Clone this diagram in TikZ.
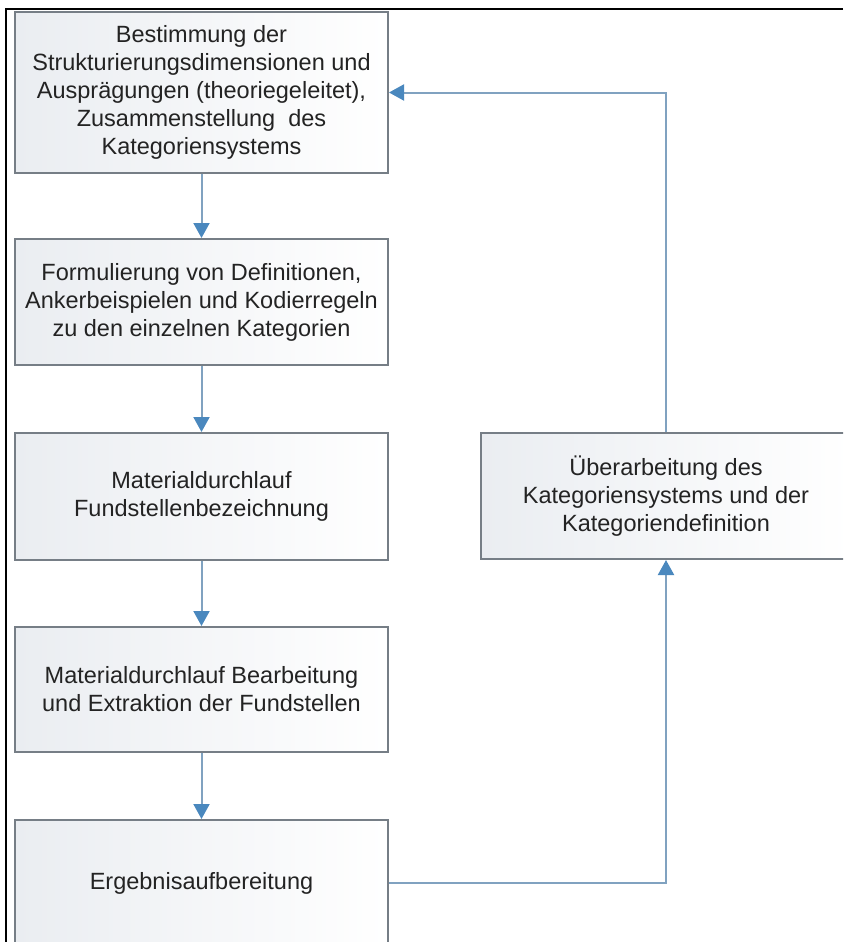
\documentclass[tikz,border=0pt]{standalone}
\usepackage{fontspec}
\setmainfont{Liberation Sans}
\usetikzlibrary{arrows.meta}
\definecolor{boxline}{RGB}{118,126,134}
\definecolor{flowline}{RGB}{128,162,192}
\definecolor{tipblue}{RGB}{74,136,190}
\definecolor{shadeL}{RGB}{234,237,241}
\definecolor{txt}{RGB}{35,35,35}
\begin{document}
\begin{tikzpicture}[x=1pt,y=-1pt,
  stepbox/.style={draw=boxline, line width=2pt, left color=shadeL, right color=white,
    minimum width=373pt, align=center, text=txt, inner sep=0pt,
    font=\fontsize{23.5}{28}\selectfont},
  flow/.style={draw=flowline, line width=2pt,
    -{Triangle[width=16pt,length=15pt,color=tipblue]}}]
\useasboundingbox (0,0) rectangle (843,942);
\clip (0,0) rectangle (843,942);
\fill[white] (0,0) rectangle (843,942);

% process chain on the left
\node[stepbox, minimum height=161pt] (b1) at (201.5,92.5)
  {Bestimmung der\\Strukturierungsdimensionen und\\Ausprägungen (theoriegeleitet),\\Zusammenstellung\ \ des\\Kategoriensystems};
\node[stepbox, minimum height=126pt] (b2) at (201.5,302)
  {Formulierung von Definitionen,\\Ankerbeispielen und Kodierregeln\\zu den einzelnen Kategorien};
\node[stepbox, minimum height=127pt] (b3) at (201.5,496.5)
  {Materialdurchlauf\\Fundstellenbezeichnung};
\node[stepbox, minimum height=125pt] (b4) at (201.5,689.5)
  {Materialdurchlauf Bearbeitung\\und Extraktion der Fundstellen};
\node[stepbox, minimum height=126pt] (b5) at (201.5,883)
  {Ergebnisaufbereitung};

% revision step on the right
\node[stepbox, minimum width=370pt, minimum height=126pt] (r) at (666,496)
  {Überarbeitung des\\Kategoriensystems und der\\Kategoriendefinition};

% connectors
\draw[flow] (b1) -- (b2);
\draw[flow] (b2) -- (b3);
\draw[flow] (b3) -- (b4);
\draw[flow] (b4) -- (b5);
\draw[flow] (b5.east) -| (r.south);
\draw[flow] (r.north) |- (b1.east);

% frame
\draw[black, line width=2.5pt] (843,9) -- (6,9) -- (6,942);
\end{tikzpicture}
\end{document}
